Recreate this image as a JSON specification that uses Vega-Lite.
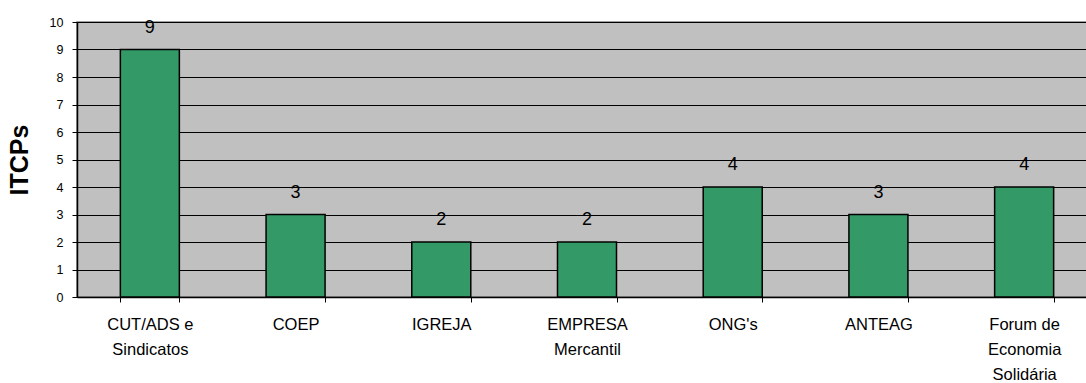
{
  "$schema": "https://vega.github.io/schema/vega-lite/v6.json",
  "width": 1020,
  "height": 275,
  "autosize": {"type": "none"},
  "padding": {"left": 77, "top": 22, "right": 0, "bottom": 86},
  "background": "white",
  "config": {
    "font": "Liberation Sans",
    "view": {"fill": "#C0C0C0", "stroke": "#808080", "strokeWidth": 1.5}
  },
  "data": {
    "values": [
      {"categoria": "CUT/ADS e|Sindicatos", "itcps": 9},
      {"categoria": "COEP", "itcps": 3},
      {"categoria": "IGREJA", "itcps": 2},
      {"categoria": "EMPRESA|Mercantil", "itcps": 2},
      {"categoria": "ONG's", "itcps": 4},
      {"categoria": "ANTEAG", "itcps": 3},
      {"categoria": "Forum de|Economia|Solidária", "itcps": 4}
    ]
  },
  "encoding": {
    "x": {
      "field": "categoria",
      "type": "nominal",
      "sort": null,
      "scale": {"paddingInner": 0.595, "paddingOuter": 0.2975},
      "axis": {
        "title": null,
        "labelAngle": 0,
        "labelExpr": "split(datum.label, '|')",
        "labelFont": "Liberation Sans",
        "labelFontSize": 16.5,
        "labelColor": "#000000",
        "labelLineHeight": 25,
        "labelPadding": 14,
        "labelBaseline": "top",
        "tickBand": "extent",
        "tickSize": 5,
        "tickColor": "#000000",
        "domainColor": "#000000",
        "domainWidth": 1.5,
        "grid": false
      }
    },
    "y": {
      "field": "itcps",
      "type": "quantitative",
      "scale": {"domain": [0, 10], "nice": false},
      "axis": {
        "title": "ITCPs",
        "titleFont": "Liberation Sans",
        "titleFontSize": 25,
        "titleFontWeight": "bold",
        "titleColor": "#000000",
        "titlePadding": 17,
        "values": [0, 1, 2, 3, 4, 5, 6, 7, 8, 9, 10],
        "labelFont": "Liberation Sans",
        "labelFontSize": 12.5,
        "labelColor": "#000000",
        "labelPadding": 9,
        "tickSize": 5,
        "tickColor": "#000000",
        "domainColor": "#000000",
        "domainWidth": 1.5,
        "grid": true,
        "gridColor": "#000000",
        "gridWidth": 1
      }
    }
  },
  "layer": [
    {
      "mark": {"type": "bar", "fill": "#339966", "stroke": "#000000", "strokeWidth": 1.5}
    },
    {
      "mark": {"type": "text", "baseline": "middle", "dy": -22, "fontSize": 18, "font": "Liberation Sans", "color": "#000000"},
      "encoding": {"text": {"field": "itcps", "type": "quantitative"}}
    }
  ]
}
